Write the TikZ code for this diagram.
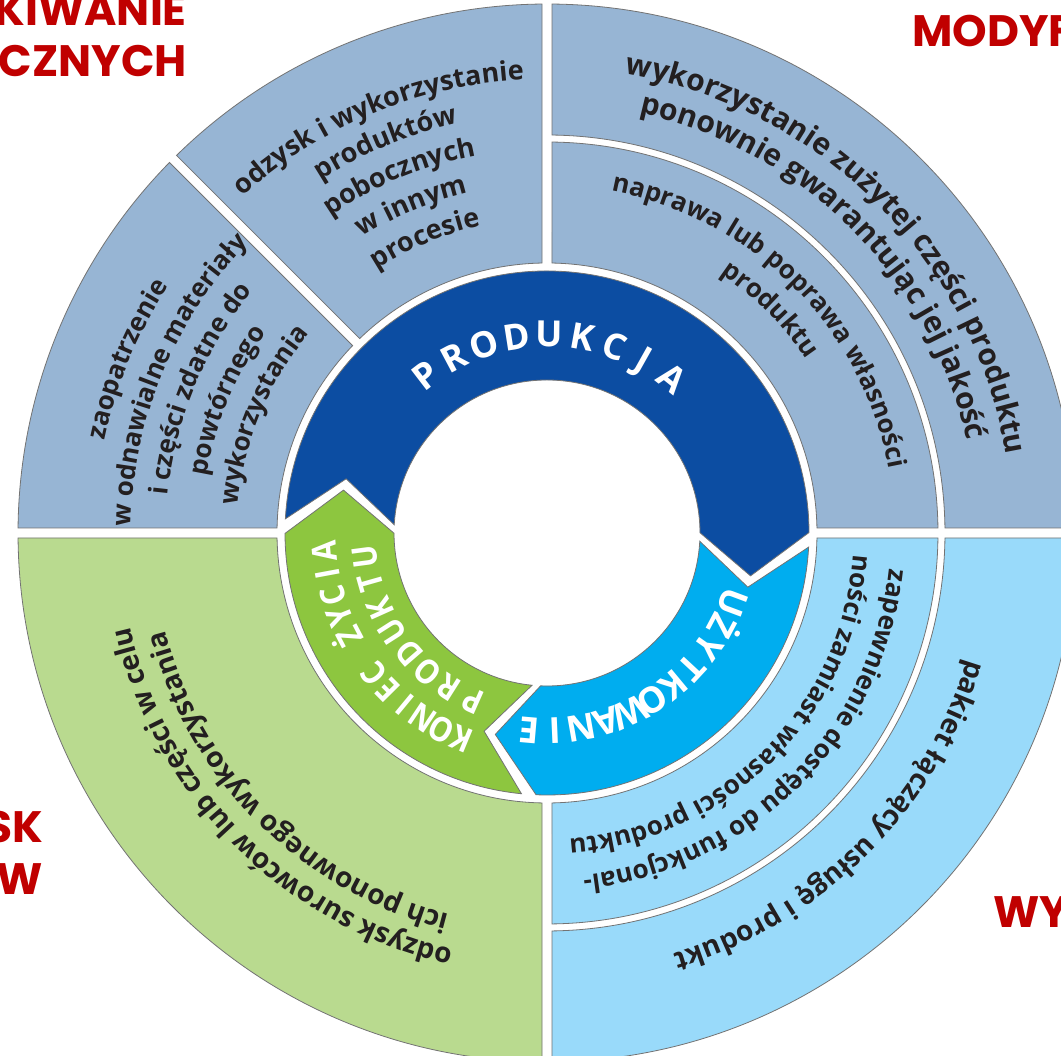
\documentclass[tikz,border=0pt]{standalone}
\usepackage{fontspec}
\setmainfont{Open Sans}
\newfontfamily\labelfont{Open Sans}[FakeStretch=0.88]
\newfontfamily\titlefont{Poppins}
\usetikzlibrary{decorations.text}

\definecolor{segblue}{RGB}{151,181,212}
\definecolor{seggreen}{RGB}{185,218,143}
\definecolor{segsky}{RGB}{153,218,250}
\definecolor{prodblue}{RGB}{12,77,162}
\definecolor{usecyan}{RGB}{0,173,239}
\definecolor{endgreen}{RGB}{141,198,63}
\definecolor{edgegrey}{RGB}{115,115,115}
\definecolor{textdark}{RGB}{35,31,32}
\definecolor{titlered}{RGB}{192,0,0}

\newcommand{\segtext}{\bfseries\fontsize{26}{28}\selectfont}
\newcommand{\segmid}{\bfseries\fontsize{27}{29}\selectfont}
\newcommand{\segbig}{\bfseries\fontsize{28}{30}\selectfont}
\newcommand{\seghuge}{\bfseries\fontsize{30}{32}\selectfont}

\tikzset{
  segment/.style={draw=edgegrey, line width=0.8},
  arrowpart/.style={draw=edgegrey, line width=0.8},
  cyclechar/.style={anchor=base, inner sep=0pt, text=white, font=\bfseries\fontsize{36}{38}\selectfont},
  smallchar/.style={cyclechar, font=\labelfont\bfseries\fontsize{34}{36}\selectfont},
  redtitle/.style={inner sep=0pt, text=titlered, font=\titlefont\bfseries\fontsize{44}{48}\selectfont},
}

% ring part between radii #1,#2 and angles #3..#4, 5pt gap on the radial sides
\newcommand{\ringpart}[5]{%
  \pgfmathsetmacro{\outA}{#3+asin(5/#2)}%
  \pgfmathsetmacro{\outB}{#4-asin(5/#2)}%
  \pgfmathsetmacro{\inA}{#3+asin(5/#1)}%
  \pgfmathsetmacro{\inB}{#4-asin(5/#1)}%
  \draw[segment, fill=#5] (\outA:#2) arc[start angle=\outA, end angle=\outB, radius=#2]
    -- (\inB:#1) arc[start angle=\inB, end angle=\inA, radius=#1] -- cycle;
}

% chevron of the cycle: tail at #1, head at #2 (clockwise)
\newcommand{\cyclearrow}[3]{%
  \pgfmathsetmacro{\arrTail}{#1-1.6}%
  \pgfmathsetmacro{\arrNotch}{#1-13.6}%
  \pgfmathsetmacro{\arrHead}{#2+1.6}%
  \pgfmathsetmacro{\arrTip}{#2-10.4}%
  \draw[arrowpart, fill=#3] (\arrTail:262) arc[start angle=\arrTail, end angle=\arrHead, radius=262]
    -- (\arrTip:208) -- (\arrHead:153) arc[start angle=\arrHead, end angle=\arrTail, radius=153]
    -- (\arrNotch:208) -- cycle;
}

% letters of a chevron label: style, name, radius, first angle, step, letters
\newcommand{\ringword}[6][cyclechar]{%
  \foreach \ch [count=\i] in {#6} {
    \pgfmathsetmacro{\chAng}{#4-(\i-1)*#5}
    \node[#1, rotate=\chAng-90] (#2\i) at (\chAng:#3) {\ch};
  }
}

% one line of text on a clockwise arc
\newcommand{\arcline}[5][\segtext]{%
  \path[decorate, decoration={text along path, text align=center, text color=textdark,
    text={|#1|#5}}] (#3:#2) arc[start angle=#3, end angle=#4, radius=#2];
}

\begin{document}
\begin{tikzpicture}[x=1pt, y=1pt]
\useasboundingbox (0,0) rectangle (1061,1056);
\clip (0,0) rectangle (1061,1056);
\fill[white] (0,0) rectangle (1061,1056);

% headings of the page round the wheel
\node[redtitle, anchor=base east] (titleA1) at (187,1030) {KIWANIE};
\node[redtitle, anchor=base east] (titleA2) at (187,979) {CZNYCH};
\node[redtitle, anchor=base west] (titleB) at (912,1009) {MODYF};
\node[redtitle, anchor=base east] (titleC1) at (43,213) {SK};
\node[redtitle, anchor=base east] (titleC2) at (43,161) {W};
\node[redtitle, anchor=base west] (titleD) at (993,128) {WY};

\begin{scope}[shift={(547,523)}]
  % outer ring
  \ringpart{270}{529}{90}{135}{segblue}
  \ringpart{270}{529}{135}{180}{segblue}
  \ringpart{270}{529}{180}{270}{seggreen}
  \ringpart{270}{391}{0}{90}{segblue}
  \ringpart{398}{529}{0}{90}{segblue}
  \ringpart{270}{391}{-90}{0}{segsky}
  \ringpart{398}{529}{-90}{0}{segsky}

  % cycle
  \cyclearrow{178.5}{-1.5}{prodblue}
  \cyclearrow{-1.5}{-94}{usecyan}
  \cyclearrow{266}{178.5}{endgreen}

  \ringword{prod}{186}{127.5}{9.55}{P,R,O,D,U,K,C,J,A}
  \ringword{use}{185}{-20.5}{7.45}{U,Ż,Y,T,K,O,W,A,N,I,E}
  \ringword[smallchar]{end}{211}{247.5}{5.7}{K,O,N,I,E,C}
  \ringword[smallchar]{life}{211}{207.6}{5.7}{Ż,Y,C,I,A}
  \ringword[smallchar]{item}{171}{246}{8.36}{P,R,O,D,U,K,T,U}

  % texts of the outer ring
  \arcline[\segmid]{454}{150}{75}{odzysk i wykorzystanie}
  \arcline[\segmid]{419}{150}{75}{produktów}
  \arcline[\segmid]{384}{150}{75}{pobocznych}
  \arcline[\segmid]{349}{150}{75}{w innym}
  \arcline[\segmid]{314}{150}{75}{procesie}

  \arcline{452}{195}{120}{zaopatrzenie}
  \arcline{416}{195}{120}{w odnawialne materiały}
  \arcline{381}{195}{120}{i części zdatne do}
  \arcline{345}{195}{120}{powtórnego}
  \arcline{310}{195}{120}{wykorzystania}

  \arcline[\seghuge]{466}{105}{-15}{wykorzystanie zużytej części produktu}
  \arcline[\seghuge]{430}{105}{-15}{ponownie gwarantując jej jakość}
  \arcline{348}{105}{-15}{naprawa lub poprawa własności}
  \arcline{312}{105}{-15}{produktu}

  \arcline{344}{15}{-105}{zapewnienie dostępu do funkcjonal-}
  \arcline{307}{15}{-105}{ności zamiast własności produktu}
  \arcline[\segbig]{439}{15}{-105}{pakiet łączący usługę i produkt}

  \arcline[\segbig]{427}{285}{165}{odzysk surowców lub części w celu}
  \arcline[\segbig]{394}{285}{165}{ich ponownego wykorzystania}
\end{scope}
\end{tikzpicture}
\end{document}
